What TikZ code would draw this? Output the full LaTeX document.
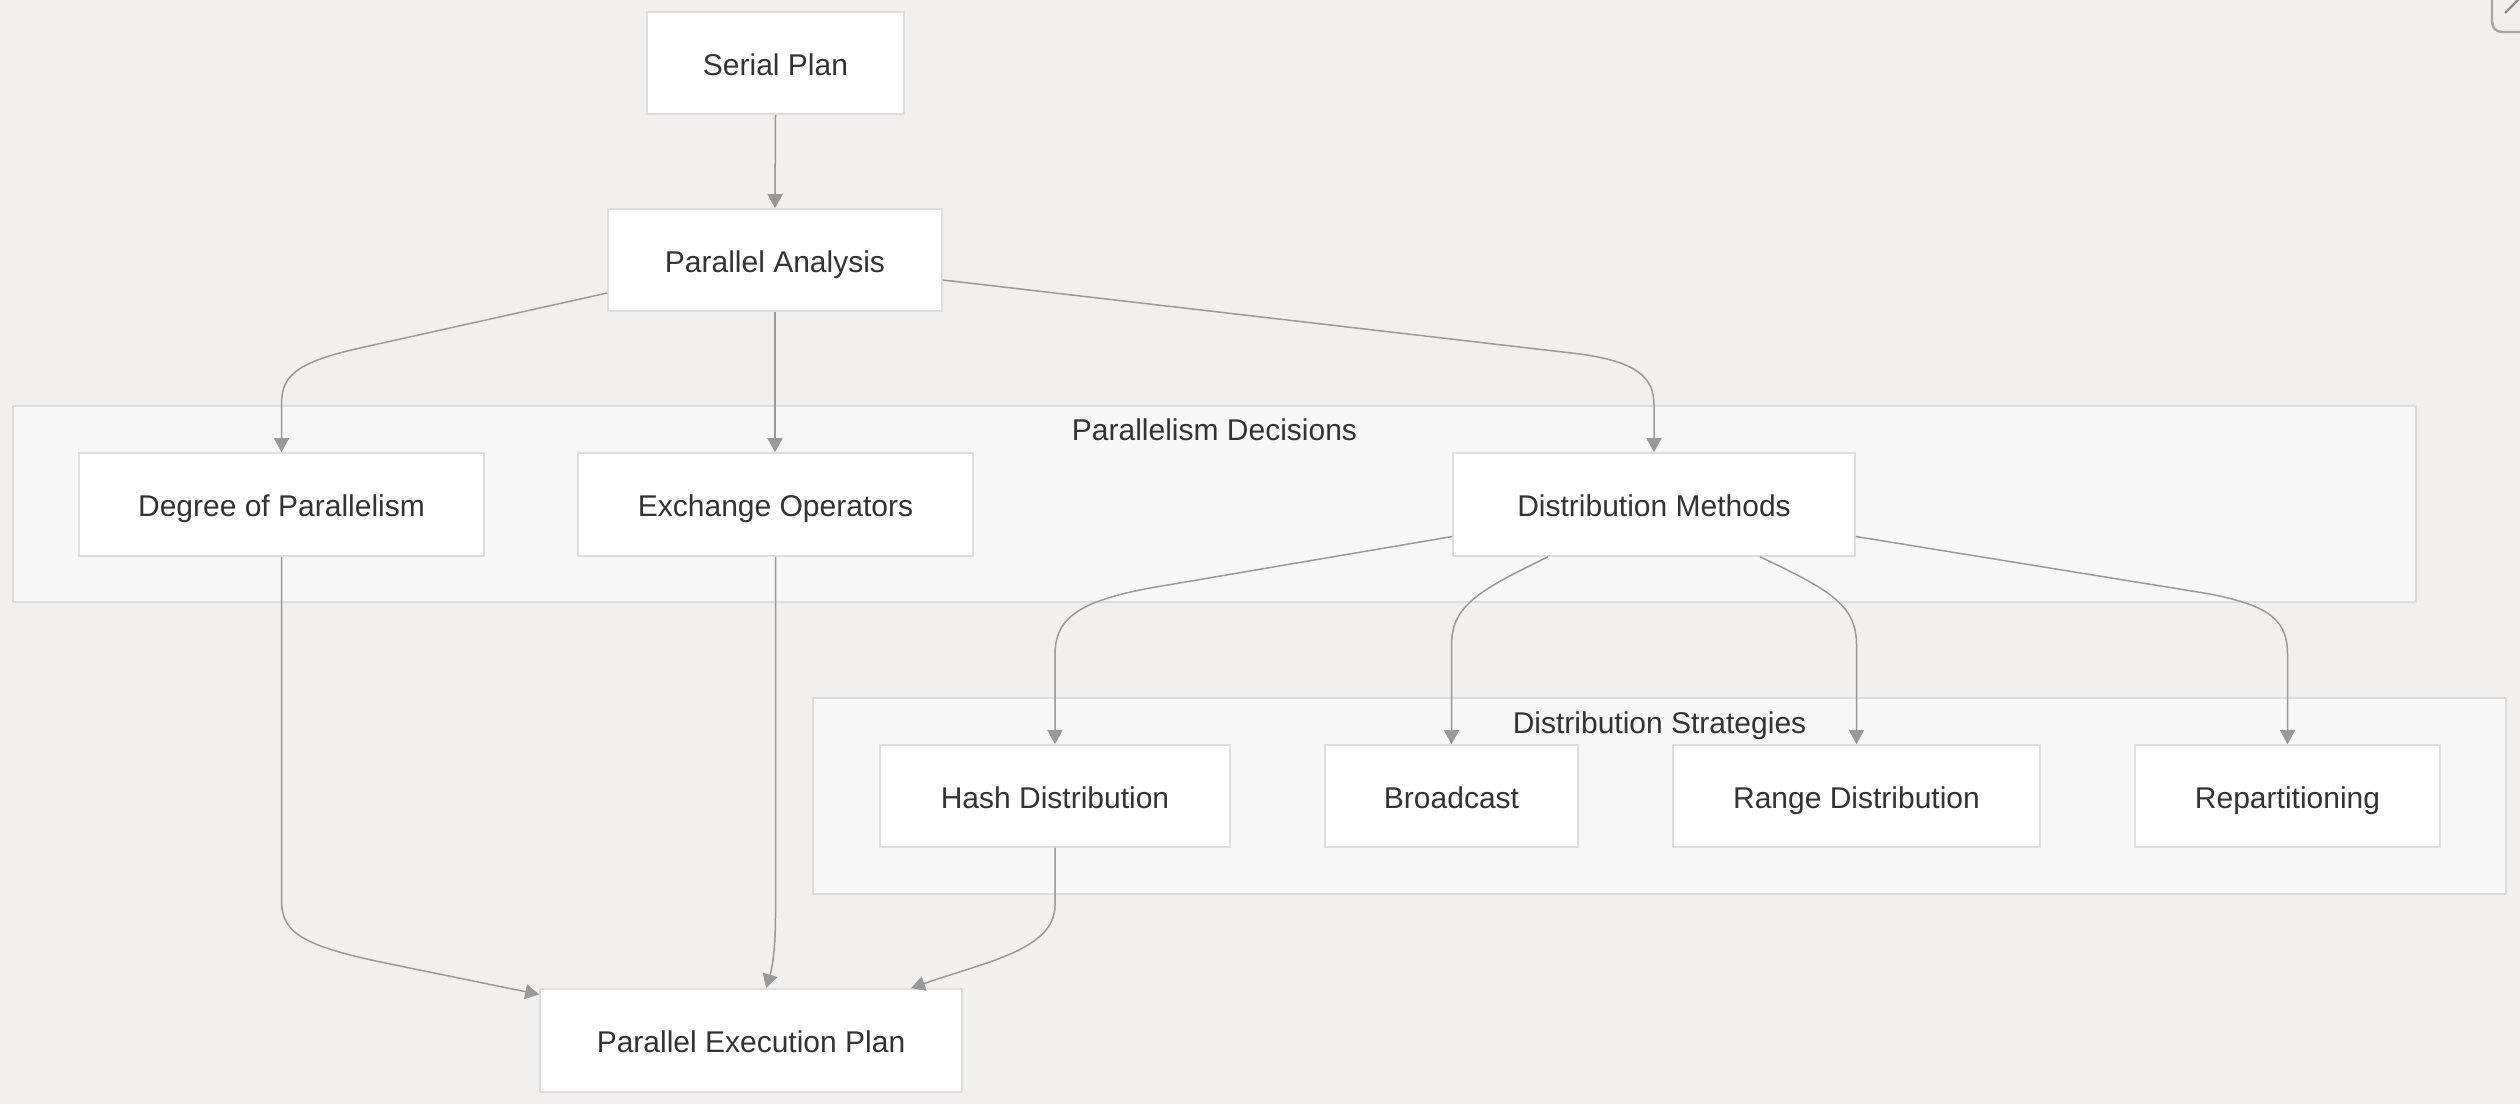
\documentclass[tikz,border=0pt]{standalone}
\usepackage{fontspec}
\setmainfont{Liberation Sans}
\usetikzlibrary{arrows.meta,calc}
\definecolor{bgc}{HTML}{F1F0EE}
\definecolor{clusterfill}{HTML}{F7F7F7}
\definecolor{clusterline}{HTML}{DCDCDC}
\definecolor{boxline}{HTML}{DEDEDE}
\definecolor{edgec}{HTML}{999999}
\definecolor{txt}{HTML}{333333}
\begin{document}
\begin{tikzpicture}[x=0.5pt,y=-0.5pt,
  box/.style={draw=boxline, line width=0.8pt, fill=white, rectangle, minimum height=51.5pt,
    inner sep=0pt, text=txt, text height=12pt, text depth=0pt, font=\fontsize{15pt}{18pt}\selectfont},
  cluster/.style={draw=clusterline, line width=0.8pt, fill=clusterfill, rectangle, inner sep=0pt},
  ctitle/.style={text=txt, inner sep=0pt, text height=12pt, text depth=0pt, font=\fontsize{15pt}{18pt}\selectfont},
  arr/.style={draw=edgec, line width=0.75pt, -{Triangle[length=7pt,width=7.5pt]}}]
\useasboundingbox (0,0) rectangle (2520,1104);
\fill[bgc] (0,0) rectangle (2520,1104);
% corner icon fragment
\begin{scope}
\clip (0,0) rectangle (2520,1104);
\draw[draw=black!35, line width=1.2pt, rounded corners=5pt] (2492,-40) rectangle (2560,32);
\draw[draw=black!45, line width=1.2pt] (2505,13) -- (2522,-4);
\end{scope}
% clusters
\node[cluster, minimum width=1201.5pt, minimum height=98pt] (pd) at (1214.5,504) {};
\node[ctitle] (pdt) at (1214.5,428) {Parallelism Decisions};
\node[cluster, minimum width=846.5pt, minimum height=98pt] (ds) at (1659.5,796) {};
\node[ctitle] (dst) at (1659.5,721) {Distribution Strategies};
% nodes
\node[box, minimum width=128.5pt, minimum height=51pt] (sp) at (775.5,63) {Serial Plan};
\node[box, minimum width=167pt, minimum height=51pt] (pa) at (775,260) {Parallel Analysis};
\node[box, minimum width=202.5pt] (deg) at (281.5,504.5) {Degree of Parallelism};
\node[box, minimum width=197.5pt] (ex) at (775.5,504.5) {Exchange Operators};
\node[box, minimum width=201pt] (dm) at (1654,504.5) {Distribution Methods};
\node[box, minimum width=175pt, minimum height=51pt] (hash) at (1055,796) {Hash Distribution};
\node[box, minimum width=126.5pt, minimum height=51pt] (bc) at (1451.5,796) {Broadcast};
\node[box, minimum width=183.5pt, minimum height=51pt] (rng) at (1856.5,796) {Range Distribution};
\node[box, minimum width=152.5pt, minimum height=51pt] (rep) at (2287.5,796) {Repartitioning};
\node[box, minimum width=211pt] (pep) at (751,1040.5) {Parallel Execution Plan};
% edges
\draw[arr] (sp.south) -- (pa.north);
\draw[arr] ($(pa.west)+(0,33)$) -- (360,348) .. controls (292,363) and (281.5,378) .. (281.5,405) -- (deg.north);
\draw[arr] (pa.south) -- (pa.south |- ex.north);
\draw[arr] ($(pa.east)+(0,20)$) -- (1580,354) .. controls (1638,362) and (1654,378) .. (1654,405) -- (dm.north);
\draw[arr] ($(dm.west)+(0,32)$) -- (1150,588) .. controls (1075,602) and (1055,620) .. (1055,655) -- (hash.north);
\draw[arr] ($(dm.south)+(-106,0)$) .. controls (1480,590) and (1451.5,605) .. (1451.5,645) -- (bc.north);
\draw[arr] ($(dm.south)+(106,0)$) .. controls (1830,590) and (1856.5,605) .. (1856.5,645) -- (rng.north);
\draw[arr] ($(dm.east)+(0,32)$) -- (2210,594) .. controls (2270,606) and (2287.5,620) .. (2287.5,655) -- (rep.north);
\draw[arr] (deg.south) -- (281.5,900) .. controls (281.5,935) and (305,947) .. (400,966) -- ($(pep.west)+(0,-46)$);
\draw[arr] (ex.south) -- (775.5,915) .. controls (775.5,955) and (771,972) .. ($(pep.north)+(15,0)$);
\draw[arr] (hash.south) -- (1055,905) .. controls (1055,950) and (985,962) .. ($(pep.north)+(160,0)$);
\end{tikzpicture}
\end{document}
